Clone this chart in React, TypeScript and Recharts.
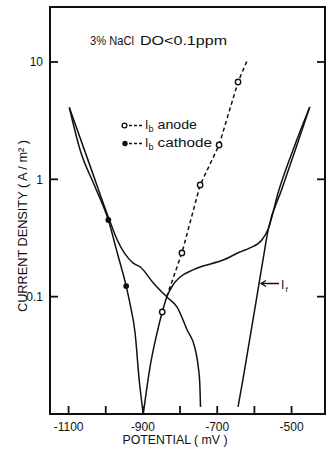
import React from 'react';
import { ComposedChart, Line, Scatter, XAxis, YAxis, ReferenceLine, Customized } from 'recharts';

// ---- axis ticks ----
const potentialTicks = [-1100, -1000, -900, -800, -700, -600, -500];
const potentialTickLabels = ['-1100', '', '-900', '', '-700', '', '-500'];
const densityTicks = [0.1, 1, 10];
const densityTickLabels = ['0.1', '1', '10'];

// ---- curves (potential mV, current density A/m2) ----
const branchAPotential = [-1098, -1069, -1030, -993, -968, -945, -934, -921, -910, -899];
const branchADensity = [4.1, 1.78, 0.88, 0.45, 0.23, 0.123, 0.085, 0.049, 0.0195, 0.01];
const branchCPotential = [-899, -881, -862, -848, -835, -819, -800, -765, -746, -684, -639, -612, -580, -564, -534, -496, -451];
const branchCDensity = [0.01, 0.025, 0.049, 0.074, 0.101, 0.126, 0.147, 0.169, 0.179, 0.205, 0.24, 0.26, 0.304, 0.37, 0.81, 1.78, 4.13];
const branchBPotential = [-1098, -1041, -988, -969, -926, -907, -872, -835, -808, -781, -760, -751, -747, -745];
const branchBDensity = [4.1, 1.27, 0.432, 0.304, 0.193, 0.179, 0.131, 0.099, 0.0815, 0.052, 0.0365, 0.0252, 0.0183, 0.0115];
const branchDPotential = [-644, -631, -613, -595, -577, -563, -527, -490, -451];
const branchDDensity = [0.0115, 0.0195, 0.0426, 0.093, 0.205, 0.37, 0.81, 1.78, 4.13];
// dashed I_b anode line
const anodeLinePotential = [-836, -795, -746, -695, -644, -620];
const anodeLineDensity = [0.1, 0.236, 0.894, 1.96, 6.75, 10.2];
// measured points
const anodePointPotential = [-848, -795, -746, -695, -644];
const anodePointDensity = [0.074, 0.236, 0.894, 1.96, 6.75];
const cathodePointPotential = [-993, -945];
const cathodePointDensity = [0.45, 0.123];

const zip = (xs: number[], ys: number[]) => xs.map((x, i) => ({ x, y: ys[i] }));
const branchA = zip(branchAPotential, branchADensity);
const branchB = zip(branchBPotential, branchBDensity);
const branchC = zip(branchCPotential, branchCDensity);
const branchD = zip(branchDPotential, branchDDensity);
const anodeLine = zip(anodeLinePotential, anodeLineDensity);
const anodePoints = zip(anodePointPotential, anodePointDensity);
const cathodePoints = zip(cathodePointPotential, cathodePointDensity);

const FONT = '"Liberation Sans", Arial, sans-serif';
const INK = '#111';
const X_DOMAIN: [number, number] = [-1150, -410];
const Y_DOMAIN: [number, number] = [0.01, 29.4];
const CHART_W = 332;
const CHART_H = 450;
const MARGIN = { top: 6, right: 7, bottom: 0, left: 0 };
const Y_AXIS_W = 50;
const X_AXIS_H = 36;
const TOP_AXIS_H = 1;
const PLOT_L = MARGIN.left + Y_AXIS_W;
const PLOT_T = MARGIN.top + TOP_AXIS_H;
const PLOT_W = CHART_W - MARGIN.right - PLOT_L;
const PLOT_H = CHART_H - MARGIN.bottom - X_AXIS_H - PLOT_T;
const TICK = 8;

const XTick = (props: any) => {
  const { x, y, payload } = props;
  const i = potentialTicks.indexOf(payload.value);
  const label = i >= 0 ? potentialTickLabels[i] : '';
  return (
    <g>
      <path d={`M${x},${y}L${x},${y - TICK}`} stroke={INK} strokeWidth={1.8} fill="none" />
      {label ? (
        <text x={x} y={y + 17} textAnchor="middle" fontSize={12} fontFamily={FONT} fill={INK}>{label}</text>
      ) : null}
    </g>
  );
};

const LeftTick = (props: any) => {
  const { x, y, payload } = props;
  const i = densityTicks.findIndex((t) => Math.abs(t - payload.value) < 1e-9);
  const label = i >= 0 ? densityTickLabels[i] : '';
  return (
    <g>
      <path d={`M${x},${y}L${x + TICK},${y}`} stroke={INK} strokeWidth={1.8} fill="none" />
      <path d={`M${x + PLOT_W},${y}L${x + PLOT_W - TICK},${y}`} stroke={INK} strokeWidth={1.8} fill="none" />
      <text x={x - 7} y={y + 4.3} textAnchor="end" fontSize={12} fontFamily={FONT} fill={INK}>{label}</text>
    </g>
  );
};

const OpenDot = (props: any) => (
  <circle cx={props.cx} cy={props.cy} r={2.7} fill="#fff" stroke={INK} strokeWidth={1.4} />
);
const FilledDot = (props: any) => <circle cx={props.cx} cy={props.cy} r={2.9} fill={INK} stroke="none" />;

const Annotations = () => (
  <g fontFamily={FONT} fill={INK}>
    <rect x={PLOT_L} y={PLOT_T} width={PLOT_W} height={PLOT_H} fill="none" stroke={INK} strokeWidth={2} />

    <text x={90} y={44.5} fontSize={13} textLength={44} lengthAdjust="spacingAndGlyphs">3% NaCl</text>
    <text x={140} y={44.5} fontSize={13} textLength={87} lengthAdjust="spacingAndGlyphs">DO&lt;0.1ppm</text>

    <circle cx={124.5} cy={125.5} r={2.4} fill="#fff" stroke={INK} strokeWidth={1.3} />
    <path d="M129,125.5L142,125.5" stroke={INK} strokeWidth={1.3} strokeDasharray="3 2" fill="none" />
    <text x={145} y={128.5} fontSize={12}>I</text>
    <text x={148.5} y={131.5} fontSize={9}>b</text>
    <text x={157.5} y={128.5} fontSize={12} textLength={39.5} lengthAdjust="spacingAndGlyphs">anode</text>

    <circle cx={125} cy={143.5} r={2.7} fill={INK} />
    <path d="M129,143.5L142,143.5" stroke={INK} strokeWidth={1.3} strokeDasharray="3 2" fill="none" />
    <text x={145} y={147} fontSize={12}>I</text>
    <text x={148.5} y={150} fontSize={9}>b</text>
    <text x={157.5} y={147} fontSize={12} textLength={54.5} lengthAdjust="spacingAndGlyphs">cathode</text>

    <path d="M261,283.5L279,283.5M266,280.5L261,283.5L266,286.5" stroke={INK} strokeWidth={1.3} fill="none" />
    <text x={281} y={289} fontSize={12}>I</text>
    <text x={285.5} y={292} fontSize={8}>f</text>

    <text x={175} y={444} fontSize={12} textAnchor="middle" textLength={105} lengthAdjust="spacingAndGlyphs">POTENTIAL ( mV )</text>
    <text transform="translate(26.5,226) rotate(-90)" x={0} y={0} fontSize={12} textAnchor="middle"
      textLength={172} lengthAdjust="spacingAndGlyphs">CURRENT DENSITY ( A / m² )</text>
  </g>
);

const LW = 1.5;

export default function App() {
  return (
    <div style={{ position: 'absolute', left: 0, top: 0, width: CHART_W, height: CHART_H, background: '#fff' }}>
      <ComposedChart width={CHART_W} height={CHART_H} margin={MARGIN}>
        <XAxis xAxisId="b" type="number" dataKey="x" domain={X_DOMAIN} allowDataOverflow ticks={potentialTicks}
          height={X_AXIS_H} tickSize={0} tickMargin={0} tickLine={false}
          axisLine={{ stroke: INK, strokeWidth: 1.7 }} tick={<XTick />} interval={0} />
        <XAxis xAxisId="t" orientation="top" type="number" dataKey="x" domain={X_DOMAIN} allowDataOverflow
          height={TOP_AXIS_H} tick={false} tickLine={false} axisLine={{ stroke: INK, strokeWidth: 1.7 }} />
        <YAxis yAxisId="l" type="number" dataKey="y" scale="log" domain={Y_DOMAIN} allowDataOverflow
          ticks={densityTicks} width={Y_AXIS_W} tickSize={0} tickMargin={0} tickLine={false}
          axisLine={{ stroke: INK, strokeWidth: 1.7 }} tick={<LeftTick />} interval={0} />
        <ReferenceLine xAxisId="b" yAxisId="l" x={X_DOMAIN[1]} stroke={INK} strokeWidth={1.7} ifOverflow="visible" />
        <Line xAxisId="b" yAxisId="l" data={branchA} dataKey="y" type="monotone" stroke={INK} strokeWidth={LW} dot={false} activeDot={false} isAnimationActive={false} />
        <Line xAxisId="b" yAxisId="l" data={branchB} dataKey="y" type="monotone" stroke={INK} strokeWidth={LW} dot={false} activeDot={false} isAnimationActive={false} />
        <Line xAxisId="b" yAxisId="l" data={branchC} dataKey="y" type="monotone" stroke={INK} strokeWidth={LW} dot={false} activeDot={false} isAnimationActive={false} />
        <Line xAxisId="b" yAxisId="l" data={branchD} dataKey="y" type="monotone" stroke={INK} strokeWidth={LW} dot={false} activeDot={false} isAnimationActive={false} />
        <Line xAxisId="b" yAxisId="l" data={anodeLine} dataKey="y" type="linear" stroke={INK} strokeWidth={LW} strokeDasharray="4 3" dot={false} activeDot={false} isAnimationActive={false} />
        <Scatter xAxisId="b" yAxisId="l" data={anodePoints} dataKey="y" shape={<OpenDot />} isAnimationActive={false} />
        <Scatter xAxisId="b" yAxisId="l" data={cathodePoints} dataKey="y" shape={<FilledDot />} isAnimationActive={false} />
        <Customized component={<Annotations />} />
      </ComposedChart>
    </div>
  );
}
